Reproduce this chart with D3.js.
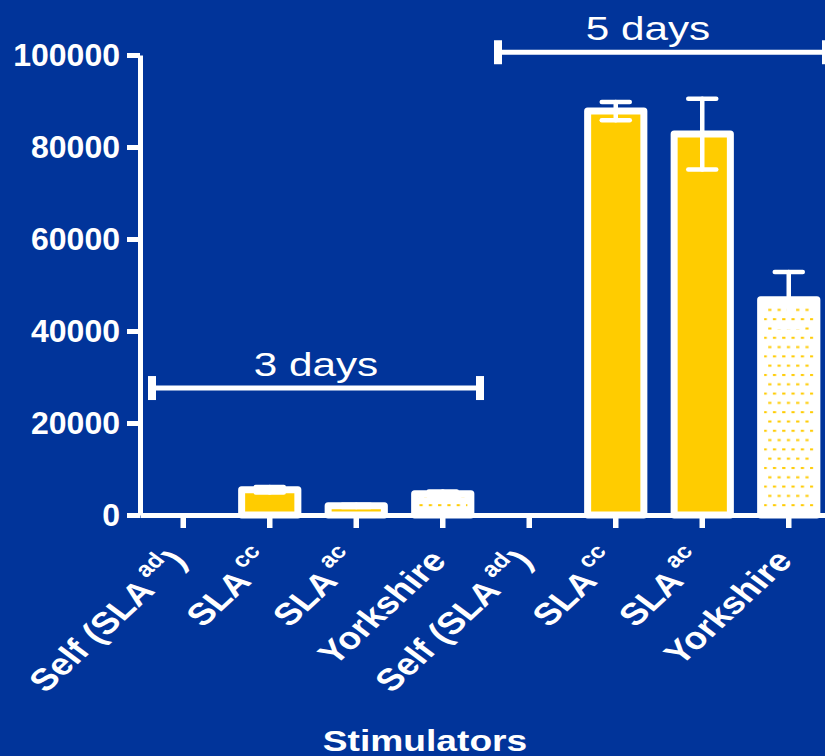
<!DOCTYPE html>
<html>
<head>
<meta charset="utf-8">
<script src="https://cdn.jsdelivr.net/npm/d3@7"></script>
<style>
  html, body { margin: 0; padding: 0; background: #01349a; }
  svg { display: block; }
  text { font-family: "Liberation Sans", Arial, sans-serif; fill: #ffffff; }
</style>
</head>
<body>
<svg id="chart" width="825" height="756"></svg>
<script>
// Stimulator groups, left half = 3 days, right half = 5 days
const categories = ["Self (SLA^ad)", "SLA^cc", "SLA^ac", "Yorkshire",
                    "Self (SLA^ad)", "SLA^cc", "SLA^ac", "Yorkshire"];
const means  = [0, 5500, 2000, 4600, 0, 87800, 82800, 46800];
const errors = [0, 600, 250, 500, 0, 2000, 7700, 6000];
const fills  = ["solid", "solid", "solid", "dots", "solid", "solid", "solid", "dots"];
const yTicks = [0, 20000, 40000, 60000, 80000, 100000];
const periods = ["3 days", "5 days"];
const periodStart = [0, 4];
const periodEnd   = [3, 7];
const periodLevel = [27600, 100600];

const BLUE = "#01349a", GOLD = "#ffcc00", WHITE = "#ffffff";
const WIDE = 1.26;   // horizontal stretch used by the wide lettering

const svg = d3.select("#chart");
const defs = svg.append("defs");

// staggered dot texture for the Yorkshire bars
const pat = defs.append("pattern")
  .attr("id", "dots").attr("patternUnits", "userSpaceOnUse")
  .attr("width", 9.3).attr("height", 18.6);
pat.append("rect").attr("width", 9.3).attr("height", 18.6).attr("fill", WHITE);
pat.append("rect").attr("x", 1).attr("y", 2).attr("width", 3.2).attr("height", 2).attr("fill", GOLD);
pat.append("rect").attr("x", 5.65).attr("y", 11.3).attr("width", 3.2).attr("height", 2).attr("fill", GOLD);

const x = d3.scaleBand()
  .domain(d3.range(categories.length))
  .range([140, 832])
  .paddingInner(0.35)
  .paddingOuter(0.175);

const y = d3.scaleLinear().domain([0, 100000]).range([515, 55]);

// bars
svg.append("g").selectAll("rect")
  .data(means)
  .join("rect")
  .attr("x", (d, i) => x(i))
  .attr("width", x.bandwidth())
  .attr("y", d => y(d))
  .attr("height", d => y(0) - y(d))
  .attr("fill", (d, i) => fills[i] === "dots" ? "url(#dots)" : GOLD)
  .attr("stroke", WHITE)
  .attr("stroke-width", 7)
  .attr("stroke-linejoin", "round");

// error bars (mean ± SEM)
const eb = svg.append("g")
  .attr("stroke", WHITE).attr("stroke-width", 4.5).attr("stroke-linecap", "round");
means.forEach((m, i) => {
  if (!errors[i]) return;
  const cx = x(i) + x.bandwidth() / 2, hw = 14;
  eb.append("line").attr("x1", cx).attr("x2", cx).attr("y1", y(m - errors[i])).attr("y2", y(m + errors[i]));
  eb.append("line").attr("x1", cx - hw).attr("x2", cx + hw).attr("y1", y(m + errors[i])).attr("y2", y(m + errors[i]));
  eb.append("line").attr("x1", cx - hw).attr("x2", cx + hw).attr("y1", y(m - errors[i])).attr("y2", y(m - errors[i]));
});

// y axis
const yAxis = svg.append("g")
  .attr("transform", "translate(140,0)")
  .call(d3.axisLeft(y).tickValues(yTicks).tickFormat(d3.format("d")).tickSize(13).tickSizeOuter(0).tickPadding(7));
yAxis.select(".domain").attr("stroke", WHITE).attr("stroke-width", 5);
yAxis.selectAll(".tick line").attr("stroke", WHITE).attr("stroke-width", 5);
yAxis.selectAll(".tick text")
  .attr("fill", WHITE).attr("font-size", 32).attr("font-weight", "bold")
  .attr("font-family", "'Liberation Sans', Arial, sans-serif");

// x axis
const xAxis = svg.append("g")
  .attr("transform", "translate(0,515)")
  .call(d3.axisBottom(x).tickSize(13).tickSizeOuter(0).tickFormat(""));
xAxis.select(".domain").attr("stroke", WHITE).attr("stroke-width", 5);
xAxis.selectAll(".tick line").attr("stroke", WHITE).attr("stroke-width", 5.5);

// rotated category labels with superscripts
const lab = svg.append("g")
  .attr("font-size", 31).attr("font-weight", "bold");
categories.forEach((c, i) => {
  const cx = x(i) + x.bandwidth() / 2;
  const parts = c.split("^");
  const t = lab.append("text")
    .attr("text-anchor", "end")
    .attr("transform", `translate(${cx + 5},${562}) scale(1.2,1) rotate(-48)`);
  if (parts.length === 1) {
    t.text(c);
  } else {
    const rest = parts[1];
    const sup = rest.replace(")", "");
    const tail = rest.endsWith(")") ? ")" : "";
    t.append("tspan").text(parts[0]);
    t.append("tspan").attr("font-size", 21).attr("dy", -15).attr("dx", 4).text(sup);
    if (tail) t.append("tspan").attr("dy", 15).attr("dx", 1).text(tail);
  }
});

// time-period brackets
const labelShift = [0, -14];
const br = svg.append("g").attr("stroke", WHITE).attr("stroke-width", 5);
periods.forEach((p, i) => {
  const x0 = x(periodStart[i]) - x.step() * x.paddingInner() / 2 + 12;
  const x1 = x(periodEnd[i]) + x.bandwidth() + x.step() * x.paddingInner() / 2 - 6;
  const yy = y(periodLevel[i]);
  br.append("line").attr("x1", x0).attr("x2", x1).attr("y1", yy).attr("y2", yy);
  br.append("line").attr("x1", x0).attr("x2", x0).attr("y1", yy - 12).attr("y2", yy + 12).attr("stroke-width", 8);
  br.append("line").attr("x1", x1).attr("x2", x1).attr("y1", yy - 12).attr("y2", yy + 12).attr("stroke-width", 8);
  svg.append("text")
    .attr("text-anchor", "middle")
    .attr("font-size", 32.5)
    .attr("transform", `translate(${(x0 + x1) / 2 + labelShift[i]},${yy - 12}) scale(1.3,1)`)
    .text(p);
});

// axis title
svg.append("text")
  .attr("text-anchor", "middle")
  .attr("font-size", 29.5).attr("font-weight", "bold")
  .attr("transform", `translate(425,751) scale(${WIDE},1)`)
  .text("Stimulators");
</script>
</body>
</html>
